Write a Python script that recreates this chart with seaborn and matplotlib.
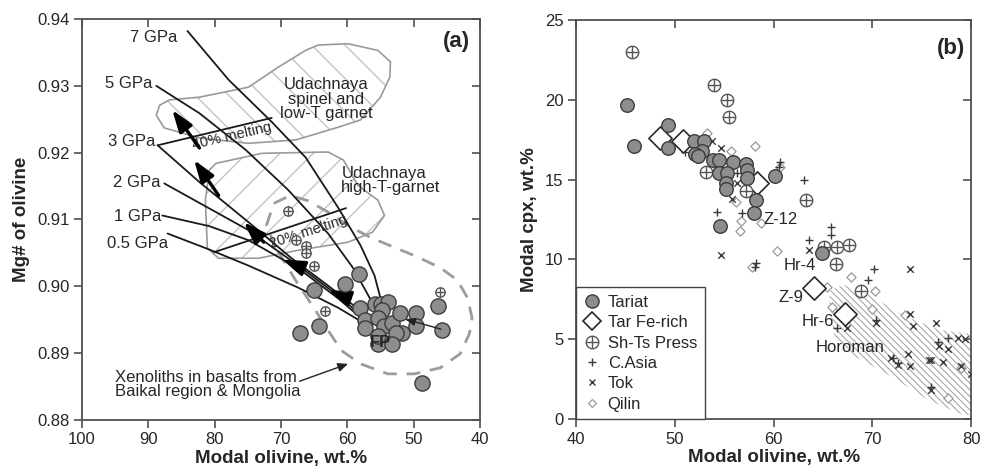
import numpy as np
import pandas as pd
import matplotlib
matplotlib.use("Agg")
import matplotlib.pyplot as plt
import seaborn as sns
from matplotlib.lines import Line2D
from matplotlib.patches import Polygon
from matplotlib.legend_handler import HandlerTuple

sns.set_style("ticks")
plt.rcParams['font.family'] = ['Liberation Sans', 'DejaVu Sans']
plt.rcParams['font.size'] = 12
plt.rcParams['hatch.linewidth'] = 1.0

# ---------------- panel (a): Mg# of olivine vs modal olivine ----------------
xeno_ol = [67.2, 64.2, 65.1, 58.3, 60.3, 46.3, 45.7, 48.7,
           58.1, 57.4, 57.4, 55.9, 55.0, 53.9, 54.7, 55.4, 54.4, 53.2,
           52.0, 51.7, 52.7, 49.7, 49.6, 55.4, 53.2, 55.4]
xeno_mg = [0.8930, 0.8940, 0.8994, 0.9019, 0.9004, 0.8971, 0.8935, 0.8855,
           0.8967, 0.8950, 0.8937, 0.8974, 0.8974, 0.8976, 0.8964, 0.8952, 0.8941, 0.8945,
           0.8960, 0.8930, 0.8930, 0.8960, 0.8941, 0.8914, 0.8914, 0.8926]

press_ol_a = [68.9, 67.7, 66.3, 66.3, 65.1, 63.3, 46.0]
press_mg_a = [0.9112, 0.9069, 0.9061, 0.9050, 0.9031, 0.8963, 0.8992]

# melting trends at constant pressure (modal olivine, Mg#)
melt_labels = ["7 GPa", "5 GPa", "3 GPa", "2 GPa", "1 GPa", "0.5 GPa"]
melt_ol = [
    [84.1, 77.9, 71.4, 66.3, 61.4, 58.0, 55.9, 55.0],
    [88.8, 82.3, 75.3, 68.9, 62.9, 59.1, 56.6],
    [88.6, 82.3, 74.9, 68.4, 62.9, 57.7],
    [87.6, 74.9, 67.4, 61.4, 57.7],
    [87.9, 80.8, 74.9, 67.4, 61.4, 57.5],
    [87.1, 80.8, 74.9, 67.4, 61.4, 57.5],
]
melt_mg = [
    [0.9382, 0.9309, 0.9246, 0.9193, 0.9118, 0.9061, 0.9016, 0.8982],
    [0.9300, 0.9259, 0.9204, 0.9144, 0.9079, 0.9027, 0.8982],
    [0.9211, 0.9156, 0.9096, 0.9042, 0.9001, 0.8961],
    [0.9154, 0.9084, 0.9031, 0.8986, 0.8955],
    [0.9106, 0.9090, 0.9069, 0.9027, 0.8982, 0.8949],
    [0.9079, 0.9055, 0.9031, 0.8998, 0.8968, 0.8945],
]
melt_label_pos = [(85.6, 0.9372), (89.4, 0.9303), (88.9, 0.9216),
                  (88.2, 0.9156), (88.0, 0.9105), (87.0, 0.9064)]

iso40_ol = [88.6, 71.4]
iso40_mg = [0.9211, 0.9252]
iso20_ol = [80.1, 60.2]
iso20_mg = [0.9051, 0.9117]

# trend arrows (tail -> head)
trend_tail = [(82.3, 0.9207), (79.4, 0.9136), (72.6, 0.9066), (66.6, 0.9027), (59.6, 0.8982)]
trend_head = [(86.4, 0.9264), (83.1, 0.9189), (75.6, 0.9096), (69.8, 0.9040), (62.9, 0.8994)]

spinel_ol = [88.8, 88.3, 86.8, 82.3, 74.9, 70.4, 66.3, 64.4, 59.9, 55.4, 53.5, 53.6,
             55.0, 58.0, 61.4, 67.8, 74.9, 82.3, 87.6]
spinel_mg = [0.9256, 0.9271, 0.9279, 0.9283, 0.9298, 0.9328, 0.9353, 0.9361, 0.9363,
             0.9353, 0.9336, 0.9313, 0.9283, 0.9249, 0.9238, 0.9219, 0.9214, 0.9222, 0.9237]
hiT_ol = [80.8, 79.8, 72.9, 62.9, 60.6, 58.4, 55.4, 54.4, 56.2, 59.9, 67.4, 73.4,
          79.4, 81.1, 81.4]
hiT_mg = [0.9174, 0.9184, 0.9199, 0.9201, 0.9189, 0.9151, 0.9129, 0.9106, 0.9081,
          0.9066, 0.9054, 0.9042, 0.9042, 0.9057, 0.9129]
xeno_field_ol = [70.8, 72.2, 71.1, 68.6, 65.9, 62.9, 59.9, 56.5, 49.9, 46.0, 43.4, 41.9,
                 41.2, 41.6, 43.0, 46.0, 49.9, 53.9, 58.0, 60.9, 62.9, 64.8, 67.8]
xeno_field_mg = [0.9058, 0.9091, 0.9124, 0.9136, 0.9128, 0.9111, 0.9091, 0.9073, 0.9046,
                 0.9028, 0.9009, 0.8983, 0.8953, 0.8929, 0.8899, 0.8878, 0.8869, 0.8869,
                 0.8884, 0.8904, 0.8934, 0.8964, 0.9009]

# ---------------- panel (b): modal cpx vs modal olivine ----------------
tariat_ol = [45.2, 45.9, 49.3, 49.3, 51.9, 53.0, 52.8, 52.0, 52.3, 53.9, 54.5, 55.9,
             54.5, 55.3, 55.2, 55.2, 54.6, 57.2, 57.3, 57.3, 60.1, 58.2, 58.0, 64.9]
tariat_cpx = [19.7, 17.1, 18.4, 17.0, 17.4, 17.4, 16.8, 16.6, 16.5, 16.2, 16.2, 16.1,
              15.4, 15.4, 14.8, 14.4, 12.1, 16.0, 15.6, 15.1, 15.2, 13.7, 12.9, 10.4]
ferich_ol = [48.5, 50.8, 58.3, 64.1, 67.2]
ferich_cpx = [17.6, 17.4, 14.8, 8.2, 6.6]
press_ol = [45.7, 54.0, 55.3, 55.5, 53.2, 57.2, 63.3, 65.1, 66.4, 67.6, 66.3, 68.9]
press_cpx = [23.0, 20.9, 20.0, 18.9, 15.5, 14.3, 13.7, 10.8, 10.8, 10.9, 9.7, 8.0]
casia_ol = [51.0, 54.3, 60.7, 63.1, 56.8, 65.8, 65.8, 63.6, 60.5, 56.3, 58.2, 58.1,
            70.2, 69.6, 70.4, 66.4, 77.7, 72.1, 72.6, 75.9, 76.6, 52.5]
casia_cpx = [16.7, 13.0, 16.1, 15.0, 12.9, 12.0, 11.5, 11.2, 15.8, 15.4, 9.8, 9.5,
             9.4, 8.7, 6.2, 5.7, 5.1, 3.8, 3.5, 2.0, 4.8, 16.3]
tok_ol = [54.7, 53.8, 54.7, 56.3, 55.8, 63.6, 73.8, 73.8, 76.4, 74.1, 67.4, 70.4, 78.7,
          79.4, 73.6, 76.7, 77.7, 71.9, 72.6, 73.8, 75.7, 75.9, 77.2, 79.0, 80.0, 75.9]
tok_cpx = [10.3, 17.4, 17.0, 14.8, 13.8, 10.6, 9.4, 6.6, 6.0, 5.8, 5.7, 6.0, 5.1,
           5.0, 4.1, 4.6, 4.4, 3.8, 3.4, 3.3, 3.7, 3.7, 3.6, 3.3, 2.8, 1.8]
qilin_ol = [53.3, 55.7, 58.1, 60.7, 56.2, 56.7, 56.6, 58.7, 60.3, 57.8, 67.8, 65.4,
            70.3, 65.9, 70.0, 73.3, 77.7, 79.0]
qilin_cpx = [17.9, 16.8, 17.1, 15.8, 13.6, 12.4, 11.8, 12.3, 10.5, 9.5, 8.9, 8.3,
             8.0, 7.0, 6.9, 6.5, 1.3, 3.2]
horoman_ol = [65.8, 67.1, 69.6, 73.1, 76.7, 80.2, 80.2, 79.2, 75.6, 72.1, 68.6, 67.1,
              66.1, 65.6]
horoman_cpx = [8.1, 8.4, 7.8, 6.5, 5.6, 5.3, 0.25, 0.25, 1.2, 2.6, 3.8, 4.3, 5.3, 7.5]
sample_names = ["Z-12", "Hr-4", "Z-9", "Hr-6", "Horoman"]
sample_pos = [(59.0, 12.5), (61.0, 9.6), (60.5, 7.6), (62.8, 6.1), (64.3, 4.45)]
legend_names = ["Tariat", "Tar Fe-rich", "Sh-Ts Press", "C.Asia", "Tok", "Qilin"]

# ---------------- styles ----------------
GREY_FILL = "#8d8d8d"
GREY_EDGE = "#3c3c3c"
AX_COL = "#505050"
LABEL_FS = 13.5

fig = plt.figure(figsize=(9.81, 4.69), dpi=100)
axa = fig.add_axes([0.0836, 0.1045, 0.4057, 0.855])
axb = fig.add_axes([0.5872, 0.1066, 0.4027, 0.8507])


def style_axes(ax):
    for sp in ax.spines.values():
        sp.set_visible(True)
        sp.set_color(AX_COL)
        sp.set_linewidth(1.3)
    ax.tick_params(axis="both", direction="out", length=6, width=1.2,
                   color=AX_COL, labelsize=12, pad=3)
    top = ax.secondary_xaxis("top")
    top.tick_params(direction="in", length=6, width=1.2, color=AX_COL, labeltop=False)
    top.spines["top"].set_visible(False)
    right = ax.secondary_yaxis("right")
    right.tick_params(direction="in", length=6, width=1.2, color=AX_COL, labelright=False)
    right.spines["right"].set_visible(False)
    return top, right


# ---- panel (a) ----
axa.set_xlim(100, 40)
axa.set_ylim(0.88, 0.94)

for xs, ys, hatch in [(spinel_ol, spinel_mg, "\\"), (hiT_ol, hiT_mg, "/")]:
    pts = np.column_stack([xs, ys])
    axa.add_patch(Polygon(pts, closed=True, facecolor="none", edgecolor="#c4c4c4",
                          hatch=hatch, lw=0, zorder=1))
    axa.add_patch(Polygon(pts, closed=True, facecolor="none", edgecolor="#9a9a9a",
                          lw=1.2, zorder=1.5))

axa.add_patch(Polygon(np.column_stack([xeno_field_ol, xeno_field_mg]), closed=True,
                      facecolor="none", edgecolor="#9c9c9c", lw=2.0,
                      linestyle=(0, (5, 3.5)), zorder=1.6))

for xs, ys in zip(melt_ol, melt_mg):
    axa.plot(xs, ys, color="#1a1a1a", lw=1.3, zorder=3)
for lab, (lx, ly) in zip(melt_labels, melt_label_pos):
    axa.text(lx, ly, lab, ha="right", va="center", fontsize=12, zorder=4)

axa.plot(iso40_ol, iso40_mg, color="#1a1a1a", lw=1.3, zorder=3)
axa.plot(iso20_ol, iso20_mg, color="#1a1a1a", lw=1.3, zorder=3)
axa.text(77.4, 0.9225, "40% melting", rotation=13, fontsize=10.5, ha="center",
         va="center", zorder=4)
axa.text(65.9, 0.9082, "20% melting", rotation=18, fontsize=10.5, ha="center",
         va="center", zorder=4)

for (tx, ty), (hx, hy) in zip(trend_tail, trend_head):
    axa.annotate("", xy=(hx, hy), xytext=(tx, ty), zorder=5,
                 arrowprops=dict(arrowstyle="-|>,head_length=1.1,head_width=0.38",
                                 color="black", lw=2.4, shrinkA=0, shrinkB=0))

sns.scatterplot(x=xeno_ol, y=xeno_mg, ax=axa, s=120, color=GREY_FILL,
                edgecolor=GREY_EDGE, linewidth=1.0, zorder=6, legend=False)
sns.scatterplot(x=press_ol_a, y=press_mg_a, ax=axa, s=45, color="white",
                edgecolor="#555555", linewidth=1.0, zorder=6, legend=False)
sns.scatterplot(x=press_ol_a, y=press_mg_a, ax=axa, s=45, marker="+",
                color="#555555", linewidth=1.0, zorder=6.5, legend=False)

axa.annotate("", xy=(51.3, 0.8951), xytext=(45.9, 0.8936), zorder=6.2,
             arrowprops=dict(arrowstyle="-|>,head_length=0.5,head_width=0.2",
                             color="#222222", lw=1.0, shrinkA=0, shrinkB=0))
axa.text(55.0, 0.8916, "FP", fontsize=12, fontweight="bold", ha="center",
         va="center", zorder=7)

axa.text(63.2, 0.9280, "Udachnaya\nspinel and\nlow-T garnet", ha="center",
         va="center", fontsize=12, linespacing=0.95, zorder=4)
axa.text(60.9, 0.9158, "Udachnaya\nhigh-T-garnet", ha="left", va="center",
         fontsize=12, linespacing=0.95, zorder=4)
axa.text(95.0, 0.8853, "Xenoliths in basalts from\nBaikal region & Mongolia",
         ha="left", va="center", fontsize=12, linespacing=0.95, zorder=4)
axa.annotate("", xy=(59.9, 0.8884), xytext=(67.2, 0.8858),
             arrowprops=dict(arrowstyle="-|>,head_length=0.5,head_width=0.22",
                             color="#222222", lw=1.0, shrinkA=0, shrinkB=0))
axa.text(0.975, 0.97, "(a)", transform=axa.transAxes, ha="right", va="top",
         fontsize=16, fontweight="bold")

axa.set_xticks([100, 90, 80, 70, 60, 50, 40])
axa.set_yticks([0.88, 0.89, 0.90, 0.91, 0.92, 0.93, 0.94])
axa.set_yticklabels(["0.88", "0.89", "0.90", "0.91", "0.92", "0.93", "0.94"])
axa.set_xlabel("Modal olivine, wt.%", fontsize=LABEL_FS, fontweight="bold", labelpad=2)
axa.set_ylabel("Mg# of olivine", fontsize=LABEL_FS, fontweight="bold", labelpad=5)
style_axes(axa)

# ---- panel (b) ----
axb.set_xlim(40, 80)
axb.set_ylim(0, 25)

with plt.rc_context({"hatch.linewidth": 0.8}):
    axb.add_patch(Polygon(np.column_stack([horoman_ol, horoman_cpx]), closed=True,
                          facecolor="none", edgecolor="#a8a8a8",
                          hatch="\\\\\\\\\\", lw=0, zorder=1))

sns.scatterplot(x=qilin_ol, y=qilin_cpx, ax=axb, marker="D", s=22, color="white",
                edgecolor="#9a9a9a", linewidth=0.9, zorder=3, legend=False)
sns.scatterplot(x=tok_ol, y=tok_cpx, ax=axb, marker="x", s=22, color="#3a3a3a",
                linewidth=1.0, zorder=3, legend=False)
sns.scatterplot(x=casia_ol, y=casia_cpx, ax=axb, marker="+", s=36, color="#3a3a3a",
                linewidth=1.0, zorder=3, legend=False)
sns.scatterplot(x=ferich_ol, y=ferich_cpx, ax=axb, marker="D", s=140, color="white",
                edgecolor="#2a2a2a", linewidth=1.2, zorder=4, legend=False)
sns.scatterplot(x=press_ol, y=press_cpx, ax=axb, s=80, color="white",
                edgecolor="#555555", linewidth=1.0, zorder=5, legend=False)
sns.scatterplot(x=press_ol, y=press_cpx, ax=axb, s=80, marker="+",
                color="#555555", linewidth=1.0, zorder=5.5, legend=False)
sns.scatterplot(x=tariat_ol, y=tariat_cpx, ax=axb, s=95, color=GREY_FILL,
                edgecolor=GREY_EDGE, linewidth=1.0, zorder=6, legend=False)

for name, (nx, ny) in zip(sample_names, sample_pos):
    axb.text(nx, ny, name, fontsize=12, ha="left", va="center", zorder=7)

axb.text(0.985, 0.955, "(b)", transform=axb.transAxes, ha="right", va="top",
         fontsize=16, fontweight="bold")

h_tariat = Line2D([], [], ls="none", marker="o", ms=9.5, mfc=GREY_FILL,
                  mec=GREY_EDGE, mew=1.0)
h_fe = Line2D([], [], ls="none", marker="D", ms=9, mfc="white", mec="#2a2a2a", mew=1.2)
h_pc = Line2D([], [], ls="none", marker="o", ms=9, mfc="white", mec="#555555", mew=1.0)
h_pp = Line2D([], [], ls="none", marker="+", ms=9, mec="#555555", mew=1.0)
h_ca = Line2D([], [], ls="none", marker="+", ms=6, mec="#3a3a3a", mew=1.0)
h_tok = Line2D([], [], ls="none", marker="x", ms=4.7, mec="#3a3a3a", mew=1.0)
h_q = Line2D([], [], ls="none", marker="D", ms=4.5, mfc="white", mec="#9a9a9a", mew=0.9)
leg = axb.legend([h_tariat, h_fe, (h_pc, h_pp), h_ca, h_tok, h_q], legend_names,
                 handler_map={tuple: HandlerTuple(ndivide=1)},
                 loc="lower left", bbox_to_anchor=(0, 0), borderaxespad=0,
                 fontsize=12, frameon=True, fancybox=False, framealpha=1,
                 edgecolor="#444444", handlelength=1.0, handletextpad=0.45,
                 labelspacing=0.32, borderpad=0.45)
leg.get_frame().set_linewidth(1.0)

axb.set_xticks([40, 50, 60, 70, 80])
axb.set_yticks([0, 5, 10, 15, 20, 25])
axb.set_xlabel("Modal olivine, wt.%", fontsize=LABEL_FS, fontweight="bold", labelpad=2)
axb.set_ylabel("Modal cpx, wt.%", fontsize=LABEL_FS, fontweight="bold", labelpad=5)
style_axes(axb)

fig.savefig("out.png", dpi=100)
